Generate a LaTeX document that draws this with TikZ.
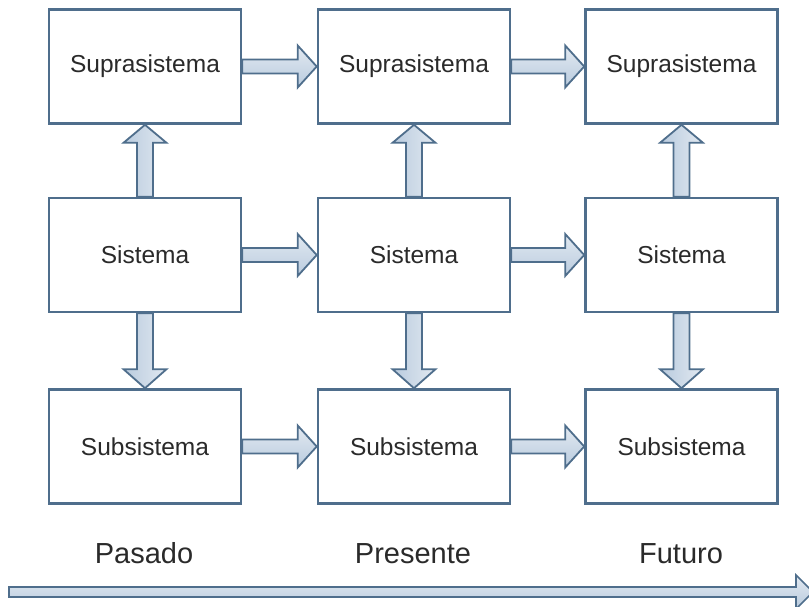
\documentclass[tikz,border=0pt]{standalone}
\usepackage{fontspec}
\setmainfont{Liberation Sans}
\usetikzlibrary{calc}

\definecolor{edge}{HTML}{4F6E8C}
\definecolor{shadelight}{HTML}{E2E9F1}
\definecolor{shadedark}{HTML}{B9CBDE}
\definecolor{ink}{HTML}{2A2A2A}

\tikzset{
  sysbox/.style={draw=edge, line width=2.6pt, fill=white,
    minimum width=192pt, minimum height=114pt, inner sep=0pt,
    text=ink, font=\fontsize{24.5}{28}\selectfont},
  timelabel/.style={text=ink, font=\fontsize{29}{33}\selectfont, inner sep=0pt, anchor=base},
  harrow/.style={draw=edge, line width=1.8pt, line join=miter,
    top color=shadelight, bottom color=shadedark},
  varrow/.style={draw=edge, line width=1.8pt, line join=miter,
    left color=shadedark, right color=shadelight},
}

% horizontal block arrow from the east side of #1 to the west side of #2
\newcommand{\hblock}[2]{%
  \draw[harrow] ($(#1.east)+(0,-7)$) -- ($(#2.west)+(-19,-7)$)
    -- ($(#2.west)+(-19,-21)$) -- (#2.west) -- ($(#2.west)+(-19,21)$)
    -- ($(#2.west)+(-19,7)$) -- ($(#1.east)+(0,7)$) -- cycle;}
% vertical block arrow, shaft leaving #1 at anchor #3, tip touching #2 at anchor #4, head depth #5
\newcommand{\vblock}[5]{%
  \draw[varrow] ($(#1.#3)+(-8,0)$) -- ($(#2.#4)+(-8,#5)$)
    -- ($(#2.#4)+(-21.5,#5)$) -- (#2.#4) -- ($(#2.#4)+(21.5,#5)$)
    -- ($(#2.#4)+(8,#5)$) -- ($(#1.#3)+(8,0)$) -- cycle;}

\begin{document}
\begin{tikzpicture}[x=1pt, y=-1pt]
  \useasboundingbox (0,0) rectangle (809,606);

  % boxes: three moments in time, three levels of the system
  \node[sysbox] (sup1) at (145,66.5) {Suprasistema};
  \node[sysbox] (sup2) at (414,66.5) {Suprasistema};
  \node[sysbox] (sup3) at (681.5,66.5) {Suprasistema};
  \node[sysbox] (sis1) at (145,255) {Sistema};
  \node[sysbox] (sis2) at (414,255) {Sistema};
  \node[sysbox] (sis3) at (681.5,255) {Sistema};
  \node[sysbox] (sub1) at (145,446.5) {Subsistema};
  \node[sysbox] (sub2) at (414,446.5) {Subsistema};
  \node[sysbox] (sub3) at (681.5,446.5) {Subsistema};

  % flow along time
  \hblock{sup1}{sup2}
  \hblock{sup2}{sup3}
  \hblock{sis1}{sis2}
  \hblock{sis2}{sis3}
  \hblock{sub1}{sub2}
  \hblock{sub2}{sub3}

  % system to suprasystem and subsystem
  \vblock{sis1}{sup1}{north}{south}{18}
  \vblock{sis2}{sup2}{north}{south}{18}
  \vblock{sis3}{sup3}{north}{south}{18}
  \vblock{sis1}{sub1}{south}{north}{-19}
  \vblock{sis2}{sub2}{south}{north}{-19}
  \vblock{sis3}{sub3}{south}{north}{-19}

  % time axis
  \node[timelabel] (past) at (144,563) {Pasado};
  \node[timelabel] (present) at (413,563) {Presente};
  \node[timelabel] (future) at (681,563) {Futuro};

  \coordinate (tstart) at (9,592);
  \coordinate (tend) at (813,592);
  \draw[harrow, line width=1.6pt] ($(tstart)+(0,-5)$) -- ($(tend)+(-17,-5)$)
    -- ($(tend)+(-17,-17)$) -- (tend) -- ($(tend)+(-17,17)$)
    -- ($(tend)+(-17,5)$) -- ($(tstart)+(0,5)$) -- cycle;
\end{tikzpicture}
\end{document}
